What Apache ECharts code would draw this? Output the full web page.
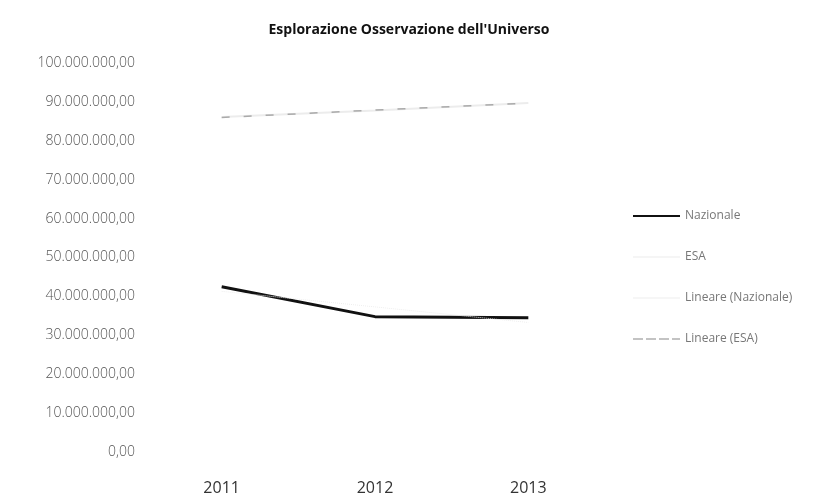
<!DOCTYPE html>
<html>
<head>
<meta charset="utf-8">
<script src="https://cdn.jsdelivr.net/npm/echarts@6/dist/echarts.min.js"></script>
<style>
  html, body { margin: 0; padding: 0; background: #fff; }
  #chart { width: 837px; height: 497px; }
</style>
</head>
<body>
<div id="chart"></div>
<script>
const years = ['2011', '2012', '2013'];
const nazionale = [42500000, 34800000, 34500000];
const esa = [86100000, 87800000, 89700000];
const lineareNazionale = [41300000, 37300000, 33300000];
const lineareEsa = [86000000, 87900000, 89700000];

let myChart = echarts.init(document.getElementById('chart'));

// formato italiano: 100.000.000,00
let formatIt = function (v) {
    let s = Math.round(v).toString().replace(/\B(?=(\d{3})+(?!\d))/g, '.');
    return s + ',00';
};

const font = 'Open Sans, Lato, sans-serif';

let option = {
    animation: false,
    title: {
        text: "Esplorazione Osservazione dell'Universo",
        left: 404,
        textAlign: 'center',
        top: 18,
        textStyle: {fontFamily: font, fontSize: 14, fontWeight: 'bold', color: '#111'}
    },
    legend: {
        orient: 'vertical',
        left: 628,
        top: 205,
        itemWidth: 47,
        itemHeight: 14,
        itemGap: 29,
        textStyle: {fontFamily: font, fontSize: 12, color: '#777'},
        data: [
            {name: 'Nazionale', icon: 'path://M0,6H47V8H0Z'},
            {name: 'ESA', icon: 'path://M0,6.5H47V7.5H0Z'},
            {name: 'Lineare (Nazionale)', icon: 'path://M0,6.5H47V7.5H0Z'},
            {name: 'Lineare (ESA)', icon: 'path://M0,6.5H10V7.5H0ZM13,6.5H23V7.5H13ZM26,6.5H36V7.5H26ZM39,6.5H47V7.5H39Z'}
        ]
    },
    grid: {left: 145, right: 232, top: 63, bottom: 45, containLabel: false},
    xAxis: {
        type: 'category',
        data: years,
        boundaryGap: true,
        axisLine: {show: false},
        axisTick: {show: false},
        axisLabel: {fontFamily: font, fontSize: 16, color: '#333', margin: 28}
    },
    yAxis: {
        type: 'value',
        min: 0,
        max: 100000000,
        interval: 10000000,
        axisLine: {show: false},
        axisTick: {show: false},
        splitLine: {show: false},
        axisLabel: {fontFamily: font, fontSize: 14, fontWeight: 300, color: '#555', margin: 10, formatter: formatIt}
    },
    series: [
        {
            name: 'Nazionale',
            type: 'line',
            data: nazionale,
            symbol: 'none',
            lineStyle: {color: '#111', width: 3},
            itemStyle: {color: '#111'}
        },
        {
            name: 'ESA',
            type: 'line',
            data: esa,
            symbol: 'none',
            lineStyle: {color: '#ececec', width: 2},
            itemStyle: {color: '#ececec'}
        },
        {
            name: 'Lineare (Nazionale)',
            type: 'line',
            data: lineareNazionale,
            symbol: 'none',
            lineStyle: {color: '#eeeeee', width: 1, type: 'dotted'},
            itemStyle: {color: '#eeeeee'}
        },
        {
            name: 'Lineare (ESA)',
            type: 'line',
            data: lineareEsa,
            symbol: 'none',
            lineStyle: {color: '#aaa', width: 1.5, type: [8, 14]},
            itemStyle: {color: '#888'}
        }
    ]
};

myChart.setOption(option);
</script>
</body>
</html>
